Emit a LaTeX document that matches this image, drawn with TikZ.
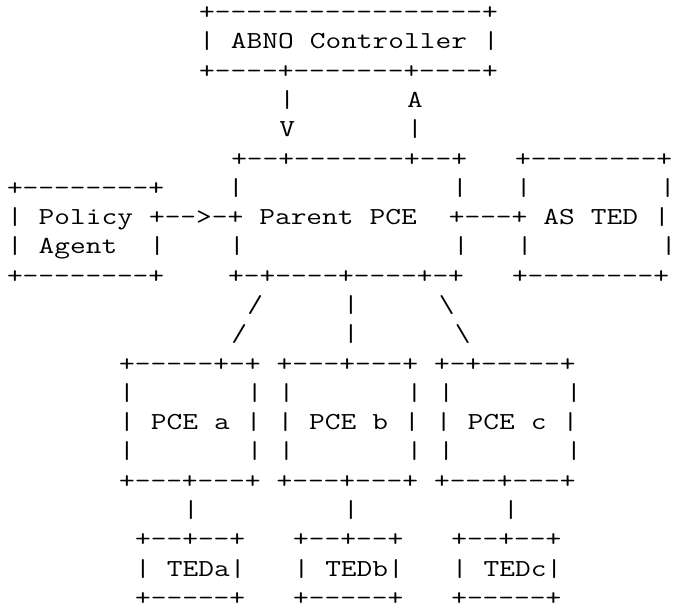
\documentclass[tikz,border=0pt]{standalone}
\usepackage{fontspec}
\setmonofont{Latin Modern Mono}[FakeStretch=1.25]
\newlength\wten
\settowidth\wten{\ttfamily\fontsize{10pt}{12pt}\selectfont +}
\pgfmathsetmacro\fsz{10*16.02/\wten}
\newcommand\asc{\ttfamily\fontsize{\fsz pt}{29.3pt}\selectfont}
\newlength\cw
\setlength\cw{16.02pt}
\newcommand\s[1]{\hspace*{#1\cw}}
\begin{document}
\begin{tikzpicture}[x=1pt,y=-1pt,
  ascii/.style={anchor=base west, inner sep=0pt, outer sep=0pt, text depth=0pt, font=\asc}]
\useasboundingbox (0,0) rectangle (683,610);
\def\xl{7.0}
\def\yb{19.6}
\def\dy{29.285}
\node[ascii] (row0)  at (\xl,{\yb+\dy*0})  {\s{12}+-----------------+};
\node[ascii] (row1)  at (\xl,{\yb+\dy*1})  {\s{12}|\s{1}ABNO\s{1}Controller\s{1}|};
\node[ascii] (row2)  at (\xl,{\yb+\dy*2})  {\s{12}+----+-------+----+};
\node[ascii] (row3)  at (\xl,{\yb+\dy*3})  {\s{17}|\s{7}A};
\node[ascii] (row4)  at (\xl,{\yb+\dy*4})  {\s{17}V\s{7}|};
\node[ascii] (row5)  at (\xl,{\yb+\dy*5})  {\s{14}+--+-------+--+\s{3}+--------+};
\node[ascii] (row6)  at (\xl,{\yb+\dy*6})  {+--------+\s{4}|\s{13}|\s{3}|\s{8}|};
\node[ascii] (row7)  at (\xl,{\yb+\dy*7})  {|\s{1}Policy\s{1}+-->-+\s{1}Parent\s{1}PCE\s{2}+---+\s{1}AS\s{1}TED\s{1}|};
\node[ascii] (row8)  at (\xl,{\yb+\dy*8})  {|\s{1}Agent\s{2}|\s{4}|\s{13}|\s{3}|\s{8}|};
\node[ascii] (row9)  at (\xl,{\yb+\dy*9})  {+--------+\s{4}+-+----+----+-+\s{3}+--------+};
\node[ascii] (row10) at (\xl,{\yb+\dy*10}) {\s{15}/\s{5}|\s{5}\textbackslash};
\node[ascii] (row11) at (\xl,{\yb+\dy*11}) {\s{14}/\s{6}|\s{6}\textbackslash};
\node[ascii] (row12) at (\xl,{\yb+\dy*12}) {\s{7}+-----+-+\s{1}+---+---+\s{1}+-+-----+};
\node[ascii] (row13) at (\xl,{\yb+\dy*13}) {\s{7}|\s{7}|\s{1}|\s{7}|\s{1}|\s{7}|};
\node[ascii] (row14) at (\xl,{\yb+\dy*14}) {\s{7}|\s{1}PCE\s{1}a\s{1}|\s{1}|\s{1}PCE\s{1}b\s{1}|\s{1}|\s{1}PCE\s{1}c\s{1}|};
\node[ascii] (row15) at (\xl,{\yb+\dy*15}) {\s{7}|\s{7}|\s{1}|\s{7}|\s{1}|\s{7}|};
\node[ascii] (row16) at (\xl,{\yb+\dy*16}) {\s{7}+---+---+\s{1}+---+---+\s{1}+---+---+};
\node[ascii] (row17) at (\xl,{\yb+\dy*17}) {\s{11}|\s{9}|\s{9}|};
\node[ascii] (row18) at (\xl,{\yb+\dy*18}) {\s{8}+--+--+\s{3}+--+--+\s{3}+--+--+};
\node[ascii] (row19) at (\xl,{\yb+\dy*19}) {\s{8}|\s{1}TEDa|\s{3}|\s{1}TEDb|\s{3}|\s{1}TEDc|};
\node[ascii] (row20) at (\xl,{\yb+\dy*20}) {\s{8}+-----+\s{3}+-----+\s{3}+-----+};
\end{tikzpicture}
\end{document}
